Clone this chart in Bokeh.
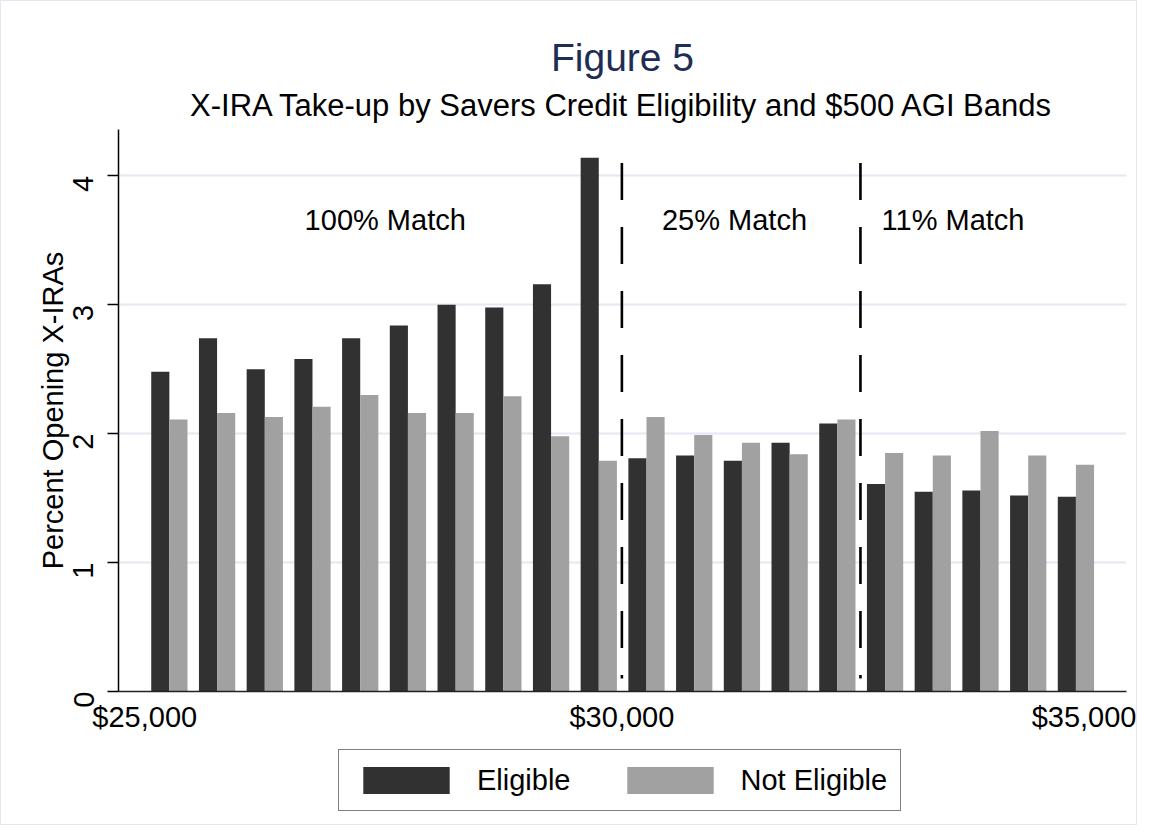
import numpy as np
from bokeh.plotting import figure
from bokeh.layouts import column
from bokeh.models import (ColumnDataSource, Legend, LegendItem, Label, Title,
                          FixedTicker, Range1d)
from bokeh.embed import file_html
from bokeh.resources import INLINE

# ---- data -------------------------------------------------------------
band_start = [25000, 25500, 26000, 26500, 27000, 27500, 28000, 28500, 29000, 29500,
              30000, 30500, 31000, 31500, 32000, 32500, 33000, 33500, 34000, 34500]
eligible = [2.48, 2.74, 2.50, 2.58, 2.74, 2.84, 3.00, 2.98, 3.16, 4.14,
            1.81, 1.83, 1.79, 1.93, 2.08, 1.61, 1.55, 1.56, 1.52, 1.51]
not_eligible = [2.11, 2.16, 2.13, 2.21, 2.30, 2.16, 2.16, 2.29, 1.98, 1.79,
                2.13, 1.99, 1.93, 1.84, 2.11, 1.85, 1.83, 2.02, 1.83, 1.76]
x_ticks = [25000, 30000, 35000]
x_tick_labels = ["$25,000", "$30,000", "$35,000"]
y_ticks = [0, 1, 2, 3, 4]
match_cutoffs = [30000, 32500]
match_labels = ["100% Match", "25% Match", "11% Match"]
match_label_x = [27520, 31180, 33470]
series_names = ["Eligible", "Not Eligible"]

title_text = "Figure 5"
subtitle_text = "X-IRA Take-up by Savers Credit Eligibility and $500 AGI Bands"
y_label = "Percent Opening X-IRAs"

FONT = "Liberation Sans"
DARK = "#313131"
LIGHT = "#a1a1a1"

bs = np.array(band_start, dtype=float)
src = ColumnDataSource(dict(xe=bs + 163, xn=bs + 353,
                            e=eligible, n=not_eligible))

# ---- main chart ---------------------------------------------------------
p = figure(width=1135, height=742,
           x_range=Range1d(24725, 35288), y_range=Range1d(0, 4.36),
           output_backend="svg", toolbar_location=None,
           min_border_left=117, min_border_right=10,
           min_border_top=128, min_border_bottom=52)
p.outline_line_color = None
p.background_fill_color = "white"
p.border_fill_color = "white"

# titles (subtitle first = closest to the frame)
p.add_layout(Title(text=subtitle_text, align="center", text_font=FONT,
                   text_font_size="31px", text_font_style="normal",
                   text_color="black", standoff=13), "above")
p.add_layout(Title(text=title_text, align="center", text_font=FONT,
                   text_font_size="39px", text_font_style="normal",
                   text_color="#1f2d55", standoff=2), "above")

# grid
p.xgrid.visible = False
p.ygrid.ticker = FixedTicker(ticks=y_ticks)
p.ygrid.grid_line_color = "#e3e8f2"
p.ygrid.grid_line_width = 2

# bars
r1 = p.vbar(x="xe", top="e", width=190, bottom=0, source=src,
            fill_color=DARK, line_color=None)
r2 = p.vbar(x="xn", top="n", width=190, bottom=0, source=src,
            fill_color=LIGHT, line_color=None)

# dashed cut-off lines
p.segment(x0=match_cutoffs, y0=[4.1] * len(match_cutoffs),
          x1=match_cutoffs, y1=[0.1] * len(match_cutoffs),
          line_color="black", line_width=2.6, line_dash="37 27")

# match labels
for txt, xx in zip(match_labels, match_label_x):
    p.add_layout(Label(x=xx, y=3.655, text=txt, text_align="center",
                       text_baseline="alphabetic", text_font=FONT,
                       text_font_size="29px", text_color="black"))

# x axis
xa = p.xaxis[0]
xa.ticker = FixedTicker(ticks=x_ticks)
xa.major_label_overrides = {t: l for t, l in zip(x_ticks, x_tick_labels)}
xa.major_tick_out = 0
xa.major_tick_in = 0
xa.minor_tick_out = 0
xa.minor_tick_in = 0
xa.major_label_standoff = 9
xa.major_label_text_font = FONT
xa.major_label_text_font_size = "29px"
xa.major_label_text_color = "black"
xa.axis_line_color = "#222222"
xa.axis_line_width = 1.5

# y axis
ya = p.yaxis[0]
ya.ticker = FixedTicker(ticks=y_ticks)
ya.major_tick_out = 11
ya.major_tick_in = 0
ya.minor_tick_out = 0
ya.minor_tick_in = 0
ya.major_tick_line_color = "black"
ya.major_tick_line_width = 1.5
ya.major_label_orientation = np.pi / 2
ya.major_label_standoff = 24
ya.major_label_text_font = FONT
ya.major_label_text_font_size = "29px"
ya.major_label_text_color = "black"
ya.axis_line_color = "black"
ya.axis_line_width = 1.5
ya.axis_label = y_label
ya.axis_label_text_font = FONT
ya.axis_label_text_font_size = "29px"
ya.axis_label_text_font_style = "normal"
ya.axis_label_text_color = "black"
ya.axis_label_standoff = -8

# ---- legend strip under the chart --------------------------------------
lf = figure(width=1135, height=81, x_range=Range1d(0, 1), y_range=Range1d(0, 1),
            output_backend="svg", toolbar_location=None,
            x_axis_location=None, y_axis_location=None,
            min_border_left=117, min_border_right=10,
            min_border_top=0, min_border_bottom=0)
lf.outline_line_color = None
for g in lf.grid:
    g.visible = False
    g.grid_line_color = None
lf.background_fill_color = "white"
lf.border_fill_color = "white"
# zero-height placeholder bars: they only provide the legend swatches
l1 = lf.vbar(x=[0.5], top=[0], bottom=0, width=0.0, fill_color=DARK,
             line_color=None)
l2 = lf.vbar(x=[0.5], top=[0], bottom=0, width=0.0, fill_color=LIGHT,
             line_color=None)
legend = Legend(items=[LegendItem(label=series_names[0], renderers=[l1]),
                       LegendItem(label=series_names[1], renderers=[l2])],
                orientation="horizontal", location=(220, 13),
                border_line_color="black", border_line_width=1.2,
                padding=13, spacing=45, label_standoff=17,
                glyph_width=108, glyph_height=34,
                label_text_font=FONT, label_text_font_size="29px",
                label_text_color="black", margin=0,
                background_fill_color="white")
lf.add_layout(legend)

page = column(p, lf, spacing=0, styles={"border": "1px solid #e3e8f0"})
open("out.html", "w").write(file_html(page, INLINE))
